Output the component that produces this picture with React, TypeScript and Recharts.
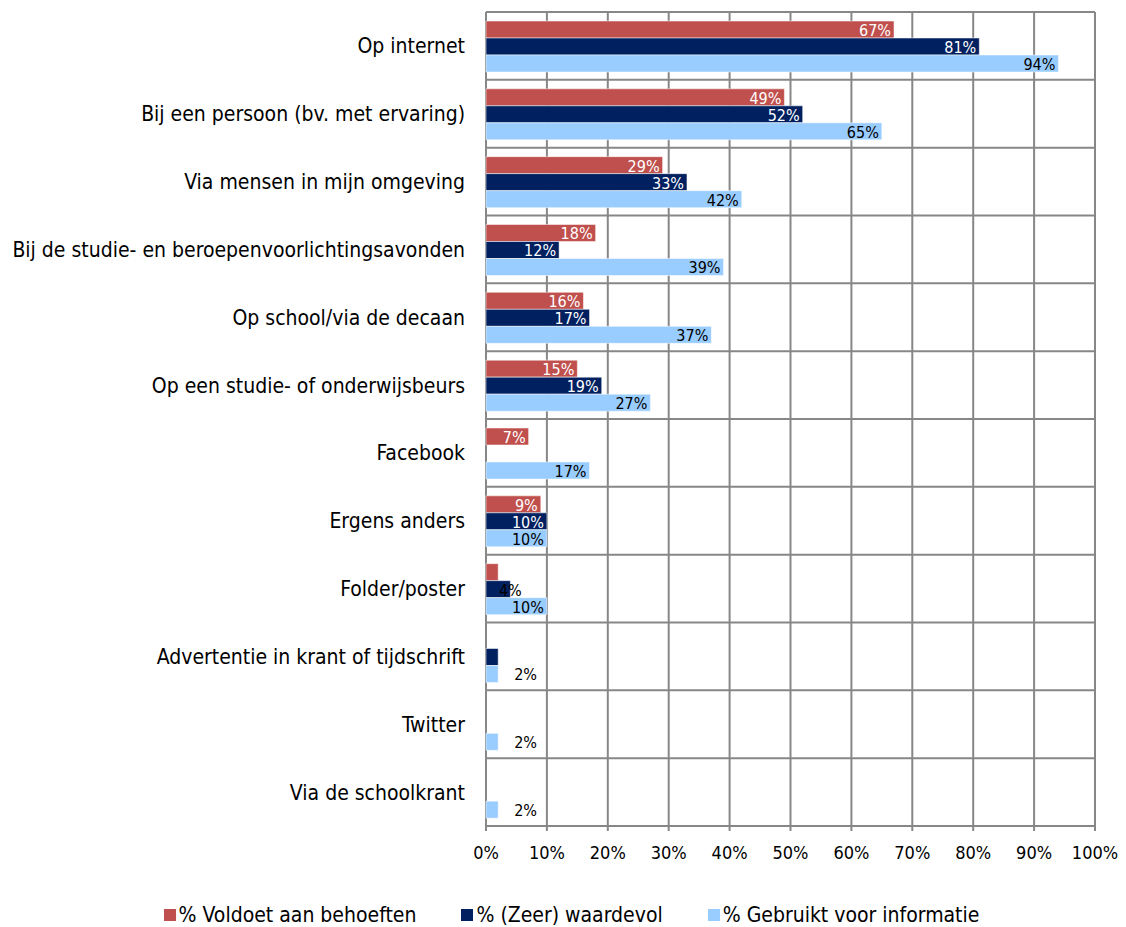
import React from 'react';
import {
  BarChart, Bar, XAxis, YAxis, CartesianGrid, Legend, LabelList
} from 'recharts';

const categories = [
  'Op internet',
  'Bij een persoon (bv. met ervaring)',
  'Via mensen in mijn omgeving',
  'Bij de studie- en beroepenvoorlichtingsavonden',
  'Op school/via de decaan',
  'Op een studie- of onderwijsbeurs',
  'Facebook',
  'Ergens anders',
  'Folder/poster',
  'Advertentie in krant of tijdschrift',
  'Twitter',
  'Via de schoolkrant',
];

const voldoet = [67, 49, 29, 18, 16, 15, 7, 9, 2, null, null, null];
const waardevol = [81, 52, 33, 12, 17, 19, null, 10, 4, 2, null, null];
const gebruikt = [94, 65, 42, 39, 37, 27, 17, 10, 10, 2, 2, 2];

const xTicks = [0, 10, 20, 30, 40, 50, 60, 70, 80, 90, 100];

const series = [
  { key: 'voldoet', name: '% Voldoet aan behoeften', color: '#C0504D', text: '#ffffff' },
  { key: 'waardevol', name: '% (Zeer) waardevol', color: '#002060', text: '#ffffff' },
  { key: 'gebruikt', name: '% Gebruikt voor informatie', color: '#99CCFF', text: '#000000' },
];

const data = categories.map((name, i) => ({
  name,
  voldoet: voldoet[i],
  waardevol: waardevol[i],
  gebruikt: gebruikt[i],
}));

const FONT = '"DejaVu Sans Condensed", "Liberation Sans Narrow", "DejaVu Sans", sans-serif';
const GRID = '#878787';

// inside-end labels like Excel; tiny bars get their label pushed outside
const makeLabel = (textColor: string, showTiny: boolean) => (props: any) => {
  const { x, y, width, height, value } = props;
  if (value === null || value === undefined) return null;
  const label = `${value}%`;
  const textW = label.length * 9;
  const cy = y + height / 2;
  let tx = x + width - 3;
  let anchor: 'end' | 'middle' | 'start' = 'end';
  let fill = textColor;
  if (value <= 2) {
    if (!showTiny) return null;
    tx = x + width + 16;
    anchor = 'start';
    fill = '#000';
  } else if (width < textW + 8) {
    tx = x + width;
    anchor = 'middle';
    fill = '#000';
  }
  return (
    <text x={tx} y={cy} dy="0.4em" textAnchor={anchor} fill={fill} fontSize={16} fontFamily={FONT}>
      {label}
    </text>
  );
};

const renderLegend = () => (
  <div style={{ display: 'flex', justifyContent: 'center', gap: 45, marginTop: 32, paddingLeft: 48, fontFamily: FONT, fontSize: 21, color: '#000' }}>
    {series.map(s => (
      <div key={s.key} style={{ display: 'flex', alignItems: 'center' }}>
        <span style={{ width: 12, height: 12, background: s.color, display: 'inline-block', marginRight: 3 }} />
        {s.name}
      </div>
    ))}
  </div>
);

const App: React.FC = () => {
  return (
    <div style={{ position: 'absolute', left: 0, top: 0, background: '#fff' }}>
      <BarChart
        width={1126}
        height={927}
        data={data}
        layout="vertical"
        margin={{ top: 12, right: 31, bottom: 0, left: 0 }}
        barCategoryGap={9}
        barGap={0}
      >
        <CartesianGrid
          stroke={GRID}
          strokeWidth={2}
          horizontalCoordinatesGenerator={({ offset }: any) =>
            categories.map((_, i) => offset.top + (i * offset.height) / categories.length)
              .concat(offset.top + offset.height)
          }
        />
        <XAxis
          type="number"
          domain={[0, 100]}
          ticks={xTicks}
          tickFormatter={(v: number) => `${v}%`}
          axisLine={{ stroke: GRID, strokeWidth: 2 }}
          tickLine={{ stroke: GRID, strokeWidth: 2 }}
          tickSize={5}
          tickMargin={15}
          height={45}
          tick={{ fill: '#000', fontSize: 18, fontFamily: FONT }}
        />
        <YAxis
          type="category"
          dataKey="name"
          width={486}
          axisLine={false}
          tickLine={false}
          tickSize={0}
          tickMargin={21}
          tick={{ fill: '#000', fontSize: 21, fontFamily: FONT }}
          interval={0}
        />
        <Legend verticalAlign="bottom" height={56} content={renderLegend} />
        {series.map((s, i) => (
          <Bar
            key={s.key}
            dataKey={s.key}
            name={s.name}
            fill={s.color}
            stroke="#ffffff"
            strokeOpacity={0.5}
            strokeWidth={1}
            isAnimationActive={false}
          >
            <LabelList dataKey={s.key} content={makeLabel(s.text, i === 2)} />
          </Bar>
        ))}
      </BarChart>
    </div>
  );
};

export default App;
